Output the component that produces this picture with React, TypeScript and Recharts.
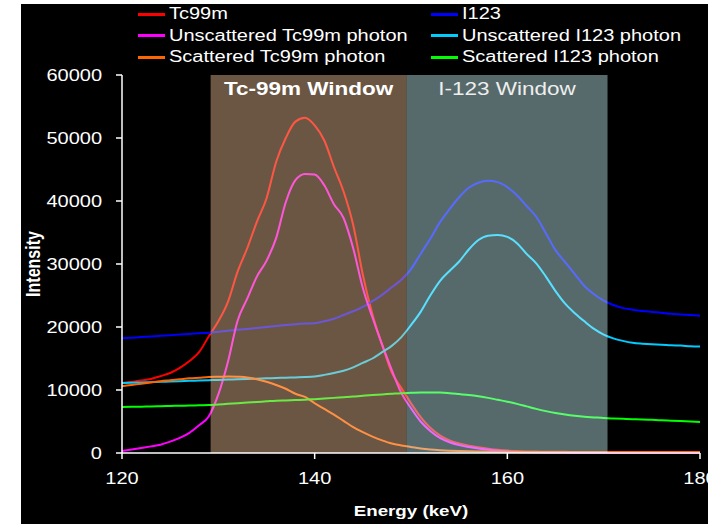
import { LineChart, Line, XAxis, YAxis, ReferenceArea } from 'recharts'

const energy = [
  120, 121, 122, 123, 124, 125, 126, 127, 128, 129, 130, 131, 132, 133, 134, 135, 136, 137, 138, 139, 140,
  141, 142, 143, 144, 145, 146, 147, 148, 149, 150, 151, 152, 153, 154, 155, 156, 157, 158, 159, 160,
  161, 162, 163, 164, 165, 166, 167, 168, 169, 170, 171, 172, 173, 174, 175, 176, 177, 178, 179, 180,
]

const tc99m = [
  11100, 11300, 11500, 11750, 12200, 12700, 13500, 14600, 16000, 18500, 20900, 24000, 28800, 32500, 36700, 40400, 46200, 50000, 52600, 53200, 52000,
  49600, 45400, 41500, 36200, 28300, 22000, 17200, 12800, 10300, 7900, 5700, 4000, 2800, 2000, 1500, 1150, 900, 680, 500, 380,
  300, 250, 220, 200, 190, 180, 175, 170, 165, 160, 160, 155, 155, 150, 150, 145, 145, 140, 140, 140,
]
const unscatteredTc = [
  300, 550, 800, 1050, 1320, 1800, 2400, 3200, 4400, 5800, 9300, 14500, 21000, 24500, 28000, 30500, 34100, 39800, 43300, 44300, 44200,
  42500, 39500, 37300, 32500, 26200, 21500, 17200, 13200, 9500, 7100, 5000, 3500, 2400, 1700, 1250, 950, 700, 500, 350, 250,
  170, 120, 80, 50, 30, 20, 15, 10, 10, 5, 5, 5, 5, 0, 0, 0, 0, 0, 0, 0,
]
const scatteredTc = [
  10600, 10800, 11000, 11200, 11400, 11550, 11700, 11850, 11950, 12050, 12100, 12150, 12100, 12000, 11700, 11300, 10800, 10200, 9400, 8900, 7900,
  7000, 6100, 5100, 4100, 3300, 2600, 2000, 1500, 1200, 950, 720, 560, 450, 370, 310, 260, 230, 210, 190, 180,
  170, 170, 165, 165, 160, 160, 160, 155, 155, 155, 155, 150, 150, 150, 150, 145, 145, 140, 140, 140,
]
const i123 = [
  18200, 18300, 18400, 18500, 18600, 18700, 18800, 18900, 19000, 19100, 19250, 19400, 19550, 19700, 19850, 20000, 20150, 20300, 20450, 20550, 20600,
  20900, 21300, 21900, 22500, 23200, 24100, 25100, 26300, 27500, 29200, 31600, 34000, 36600, 38700, 40600, 42100, 42900, 43200, 43000, 42200,
  40900, 39200, 37500, 34900, 32200, 30300, 28400, 26500, 25200, 24200, 23500, 23000, 22750, 22550, 22400, 22250, 22100, 22000, 21900, 21800,
]
const unscatteredI = [
  11100, 11150, 11200, 11250, 11300, 11350, 11400, 11450, 11500, 11550, 11600, 11650, 11700, 11750, 11800, 11850, 11900, 11950, 12000, 12050, 12150,
  12400, 12700, 13050, 13600, 14300, 15000, 16000, 17000, 18400, 20300, 22400, 25000, 27300, 28900, 30400, 32300, 33800, 34500, 34600, 34300,
  33300, 31600, 30100, 28000, 25700, 23700, 22200, 20900, 19700, 18800, 18200, 17800, 17500, 17350, 17250, 17200, 17100, 17050, 16950, 16900,
]
const scatteredI = [
  7300, 7330, 7360, 7400, 7430, 7460, 7500, 7530, 7570, 7600, 7700, 7800, 7900, 8000, 8100, 8200, 8300, 8350, 8400, 8450, 8550,
  8650, 8750, 8850, 8950, 9100, 9200, 9300, 9400, 9500, 9550, 9600, 9600, 9600, 9500, 9350, 9200, 9000, 8750, 8450, 8150,
  7800, 7400, 7000, 6650, 6350, 6100, 5900, 5750, 5650, 5550, 5480, 5420, 5370, 5320, 5260, 5200, 5130, 5060, 4990, 4920,
]

const seriesNames = [
  'Tc99m', 'I123', 'Unscattered Tc99m photon', 'Unscattered I123 photon', 'Scattered Tc99m photon', 'Scattered I123 photon',
]
const seriesColors = ['#ff0000', '#0000ff', '#ff00ff', '#00ccff', '#ff6600', '#00ff00']
const xTicks = [120, 140, 160, 180]
const yTicks = [0, 10000, 20000, 30000, 40000, 50000, 60000]
const tcWindow = [129.2, 149.55]
const iWindow = [149.55, 170.4]

const data = energy.map((e, i) => ({
  energy: e,
  s0: tc99m[i],
  s1: i123[i],
  s2: unscatteredTc[i],
  s3: unscatteredI[i],
  s4: scatteredTc[i],
  s5: scatteredI[i],
}))

const FONT = '"Liberation Sans", Arial, sans-serif'
const STRETCH = 1.25

function YTick({ y, payload }: any) {
  return (
    <text transform={`translate(102,${y}) scale(${STRETCH},1)`} textAnchor="end" dy="0.36em"
      fill="#fff" fontSize={16} fontFamily={FONT}>{payload.value}</text>
  )
}

function XTick({ x, payload }: any) {
  return (
    <text transform={`translate(${x},484) scale(${STRETCH},1)`} textAnchor="middle"
      fill="#fff" fontSize={16} fontFamily={FONT}>{payload.value}</text>
  )
}

function WindowLabel({ viewBox, text, bold, color }: any) {
  const cx = viewBox ? viewBox.x + viewBox.width / 2 : 0
  const top = viewBox ? viewBox.y : 75
  return (
    <text transform={`translate(${cx},${top + 20}) scale(${STRETCH},1)`} textAnchor="middle"
      fill={color} fontSize={18} fontWeight={bold ? 'bold' : 'normal'} fontFamily={FONT}>{text}</text>
  )
}

function XTitle() {
  return (
    <text transform={`translate(411,516) scale(${STRETCH},1)`} textAnchor="middle"
      fill="#fff" fontSize={15} fontWeight="bold" fontFamily={FONT}>Energy (keV)</text>
  )
}

function YTitle() {
  return (
    <text transform={`translate(40,264) scale(${STRETCH},1) rotate(-90)`} textAnchor="middle"
      fill="#fff" fontSize={16} fontWeight="bold" fontFamily={FONT}>Intensity</text>
  )
}

// legend laid out in two columns, three rows
const legendOrder = [0, 2, 4, 1, 3, 5]

export default function App() {
  return (
    <div style={{ position: 'absolute', left: 0, top: 0, width: 708, height: 524, background: '#fff', overflow: 'hidden' }}>
      <div style={{ position: 'absolute', left: 21, top: 4, width: 687, height: 520, background: '#000' }} />
      {legendOrder.map((s, k) => {
        const col = Math.floor(k / 3)
        const row = k % 3
        return (
          <div key={s} style={{
            position: 'absolute', left: col === 0 ? 138 : 431, top: 3 + row * 21.7, height: 22,
            display: 'flex', alignItems: 'center', whiteSpace: 'nowrap',
          }}>
            <div style={{ width: 27, height: 3, background: seriesColors[s], marginRight: 4 }} />
            <span style={{
              color: '#fff', fontFamily: FONT, fontSize: 16, display: 'inline-block',
              transform: `scaleX(${STRETCH})`, transformOrigin: 'left center',
            }}>{seriesNames[s]}</span>
          </div>
        )
      })}
      <div style={{ position: 'absolute', left: 0, top: 0 }}>
        <LineChart width={708} height={524} data={data} margin={{ top: 75, right: 8, bottom: 0, left: 0 }}>
          <XAxis dataKey="energy" type="number" domain={[120, 180]} ticks={xTicks} height={71}
            stroke="#fff" strokeWidth={1.5} tickSize={6} tick={<XTick />} label={<XTitle />} interval={0} />
          <YAxis type="number" domain={[0, 60000]} ticks={yTicks} width={122}
            stroke="#fff" strokeWidth={1.5} tickSize={6} tick={<YTick />} label={<YTitle />} interval={0} />
          {seriesNames.map((n, s) => (
            <Line key={n} dataKey={`s${s}`} name={n} type="monotone" stroke={seriesColors[s]}
              strokeWidth={2} dot={false} isAnimationActive={false} />
          ))}
          <ReferenceArea x1={tcWindow[0]} x2={tcWindow[1]} y1={0} y2={60000} fill="#ffcda2" fillOpacity={0.42}
            stroke="none" zIndex={450} label={<WindowLabel text="Tc-99m Window" bold color="#fff" />} />
          <ReferenceArea x1={iWindow[0]} x2={iWindow[1]} y1={0} y2={60000} fill="#cffcff" fillOpacity={0.42}
            stroke="none" zIndex={450} label={<WindowLabel text="I-123 Window" color="#eee" />} />
        </LineChart>
      </div>
    </div>
  )
}
